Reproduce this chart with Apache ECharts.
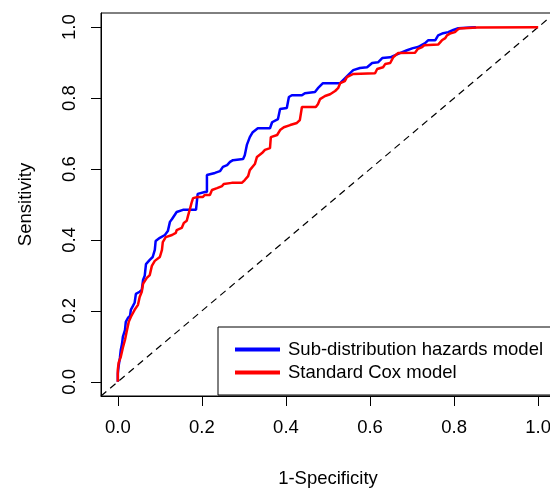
<!DOCTYPE html>
<html lang="en">
<head>
	<meta charset="UTF-8">
	<title>ROC curves</title>
	<script src="https://cdn.jsdelivr.net/npm/echarts@6/dist/echarts.min.js"></script>
	<style>
		html, body { margin: 0; padding: 0; background: #fff; }
		#main { width: 550px; height: 489px; }
	</style>
</head>
<body>
	<div id="main"></div>
	<script>
		// series names
		var seriesNames = ['Sub-distribution hazards model', 'Standard Cox model'];
		var tickValues = [0, 0.2, 0.4, 0.6, 0.8, 1.0];

		// sub-distribution hazards model (blue)
		var sdhFpr = [0, 0, 0.002, 0.005, 0.007, 0.010, 0.012, 0.017, 0.019, 0.024, 0.029, 0.031, 0.036, 0.040, 0.043, 0.052, 0.057, 0.060, 0.064, 0.067,
			0.076, 0.083, 0.088, 0.090, 0.100, 0.112, 0.119, 0.124, 0.129, 0.140, 0.155, 0.186, 0.190, 0.207, 0.212, 0.212, 0.231, 0.243, 0.250, 0.260,
			0.267, 0.274, 0.298, 0.302, 0.307, 0.314, 0.321, 0.333, 0.362, 0.367, 0.381, 0.386, 0.402, 0.407, 0.414, 0.438, 0.445, 0.469, 0.476, 0.488,
			0.529, 0.536, 0.552, 0.560, 0.576, 0.593, 0.605, 0.619, 0.629, 0.648, 0.660, 0.671, 0.688, 0.702, 0.714, 0.731, 0.738, 0.755, 0.762, 0.774,
			0.786, 0.798, 0.810, 0.838, 0.852];
		var sdhTpr = [0, 0.023, 0.045, 0.068, 0.090, 0.107, 0.127, 0.146, 0.169, 0.180, 0.186, 0.203, 0.214, 0.223, 0.248, 0.254, 0.259, 0.287, 0.299, 0.332,
			0.344, 0.352, 0.372, 0.397, 0.406, 0.414, 0.425, 0.451, 0.459, 0.479, 0.485, 0.485, 0.530, 0.535, 0.535, 0.583, 0.589, 0.594, 0.606, 0.611,
			0.620, 0.625, 0.628, 0.639, 0.668, 0.690, 0.704, 0.715, 0.715, 0.732, 0.741, 0.769, 0.772, 0.803, 0.808, 0.808, 0.814, 0.817, 0.828, 0.842,
			0.842, 0.851, 0.870, 0.879, 0.885, 0.887, 0.899, 0.901, 0.913, 0.915, 0.921, 0.927, 0.935, 0.941, 0.944, 0.955, 0.963, 0.963, 0.977, 0.983,
			0.986, 0.992, 0.997, 0.999, 1.0];

		// standard cox model (red)
		var coxFpr = [0, 0, 0.002, 0.007, 0.012, 0.017, 0.021, 0.026, 0.031, 0.036, 0.040, 0.048, 0.052, 0.057, 0.060, 0.069, 0.076, 0.081, 0.088, 0.100,
			0.105, 0.107, 0.114, 0.129, 0.138, 0.140, 0.152, 0.157, 0.164, 0.167, 0.171, 0.176, 0.179, 0.190, 0.202, 0.207, 0.219, 0.224, 0.236, 0.248,
			0.252, 0.271, 0.295, 0.302, 0.310, 0.314, 0.326, 0.331, 0.343, 0.350, 0.362, 0.364, 0.379, 0.386, 0.395, 0.410, 0.426, 0.433, 0.438, 0.471,
			0.476, 0.481, 0.493, 0.505, 0.517, 0.524, 0.529, 0.540, 0.545, 0.560, 0.612, 0.617, 0.631, 0.636, 0.648, 0.655, 0.667, 0.707, 0.714, 0.724,
			0.729, 0.762, 0.771, 0.779, 0.783, 0.790, 0.802, 0.807, 0.812, 0.855, 1.0];
		var coxTpr = [0, 0.034, 0.054, 0.070, 0.096, 0.118, 0.141, 0.169, 0.183, 0.194, 0.203, 0.217, 0.239, 0.254, 0.276, 0.293, 0.301, 0.327, 0.341, 0.352,
			0.372, 0.394, 0.408, 0.414, 0.420, 0.428, 0.434, 0.448, 0.454, 0.468, 0.485, 0.507, 0.518, 0.521, 0.521, 0.527, 0.527, 0.541, 0.546, 0.552,
			0.558, 0.561, 0.561, 0.569, 0.580, 0.597, 0.614, 0.634, 0.645, 0.654, 0.659, 0.690, 0.696, 0.710, 0.718, 0.724, 0.730, 0.738, 0.775, 0.775,
			0.783, 0.797, 0.806, 0.811, 0.820, 0.828, 0.842, 0.848, 0.859, 0.868, 0.870, 0.882, 0.887, 0.896, 0.899, 0.915, 0.927, 0.928, 0.939, 0.944,
			0.949, 0.951, 0.963, 0.969, 0.977, 0.982, 0.986, 0.992, 0.996, 0.999, 1.0];

		// y = x reference line, across the whole plot box
		var diagLine = [[-0.04, -0.04], [1.04, 1.04]];

		function pairs(xs, ys) {
			return xs.map(function (x, i) { return [x, ys[i]]; });
		}

		var font = 'Liberation Sans, Arial, sans-serif';

		var axisCommon = {
			type: 'value',
			min: -0.04,
			max: 1.04,
			splitLine: { show: false },
			axisLine: { show: true, onZero: false, lineStyle: { color: '#000', width: 1 } },
			axisTick: { show: true, inside: false, length: 10, customValues: tickValues, lineStyle: { color: '#000', width: 1 } },
			nameLocation: 'middle',
			nameTextStyle: { color: '#000', fontSize: 18.5, fontFamily: font }
		};

		var myChart = echarts.init(document.getElementById('main'));
		var option = {
			animation: false,
			backgroundColor: '#fff',
			grid: {
				left: 101, top: 13, width: 454, height: 383,
				containLabel: false,
				outerBoundsMode: 'none',
				show: true, borderColor: '#000', borderWidth: 1, backgroundColor: 'transparent'
			},
			legend: {
				data: seriesNames,
				orient: 'vertical',
				left: 218,
				top: 327,
				itemWidth: 45,
				itemHeight: 4,
				itemGap: 4,
				icon: 'rect',
				padding: [13, 40, 13, 17],
				borderColor: '#000',
				borderWidth: 1,
				borderRadius: 0,
				backgroundColor: '#fff',
				textStyle: { color: '#000', fontSize: 18.5, fontFamily: font, padding: [0, 0, 0, 3] }
			},
			xAxis: Object.assign({}, axisCommon, {
				name: '1-Specificity',
				nameGap: 73,
				axisLabel: {
					customValues: tickValues, margin: 22, color: '#000', fontSize: 18.5, fontFamily: font,
					formatter: function (v) { return v.toFixed(1); }
				}
			}),
			yAxis: Object.assign({}, axisCommon, {
				name: 'Sensitivity',
				nameGap: 66,
				axisLabel: {
					customValues: tickValues, margin: 22, rotate: 90, color: '#000', fontSize: 18.5, fontFamily: font,
					formatter: function (v) { return v.toFixed(1); }
				}
			}),
			series: [
				{
					type: 'line',
					data: diagLine,
					showSymbol: false,
					silent: true,
					lineStyle: { color: '#000', width: 1.2, type: [7, 5] },
					z: 1
				},
				{
					name: seriesNames[0],
					type: 'line',
					data: pairs(sdhFpr, sdhTpr),
					showSymbol: false,
					color: '#0000ff',
					lineStyle: { color: '#0000ff', width: 2.5 },
					z: 2
				},
				{
					name: seriesNames[1],
					type: 'line',
					data: pairs(coxFpr, coxTpr),
					showSymbol: false,
					color: '#ff0000',
					lineStyle: { color: '#ff0000', width: 2.5 },
					z: 3
				}
			]
		};
		myChart.setOption(option);
	</script>
</body>
</html>
